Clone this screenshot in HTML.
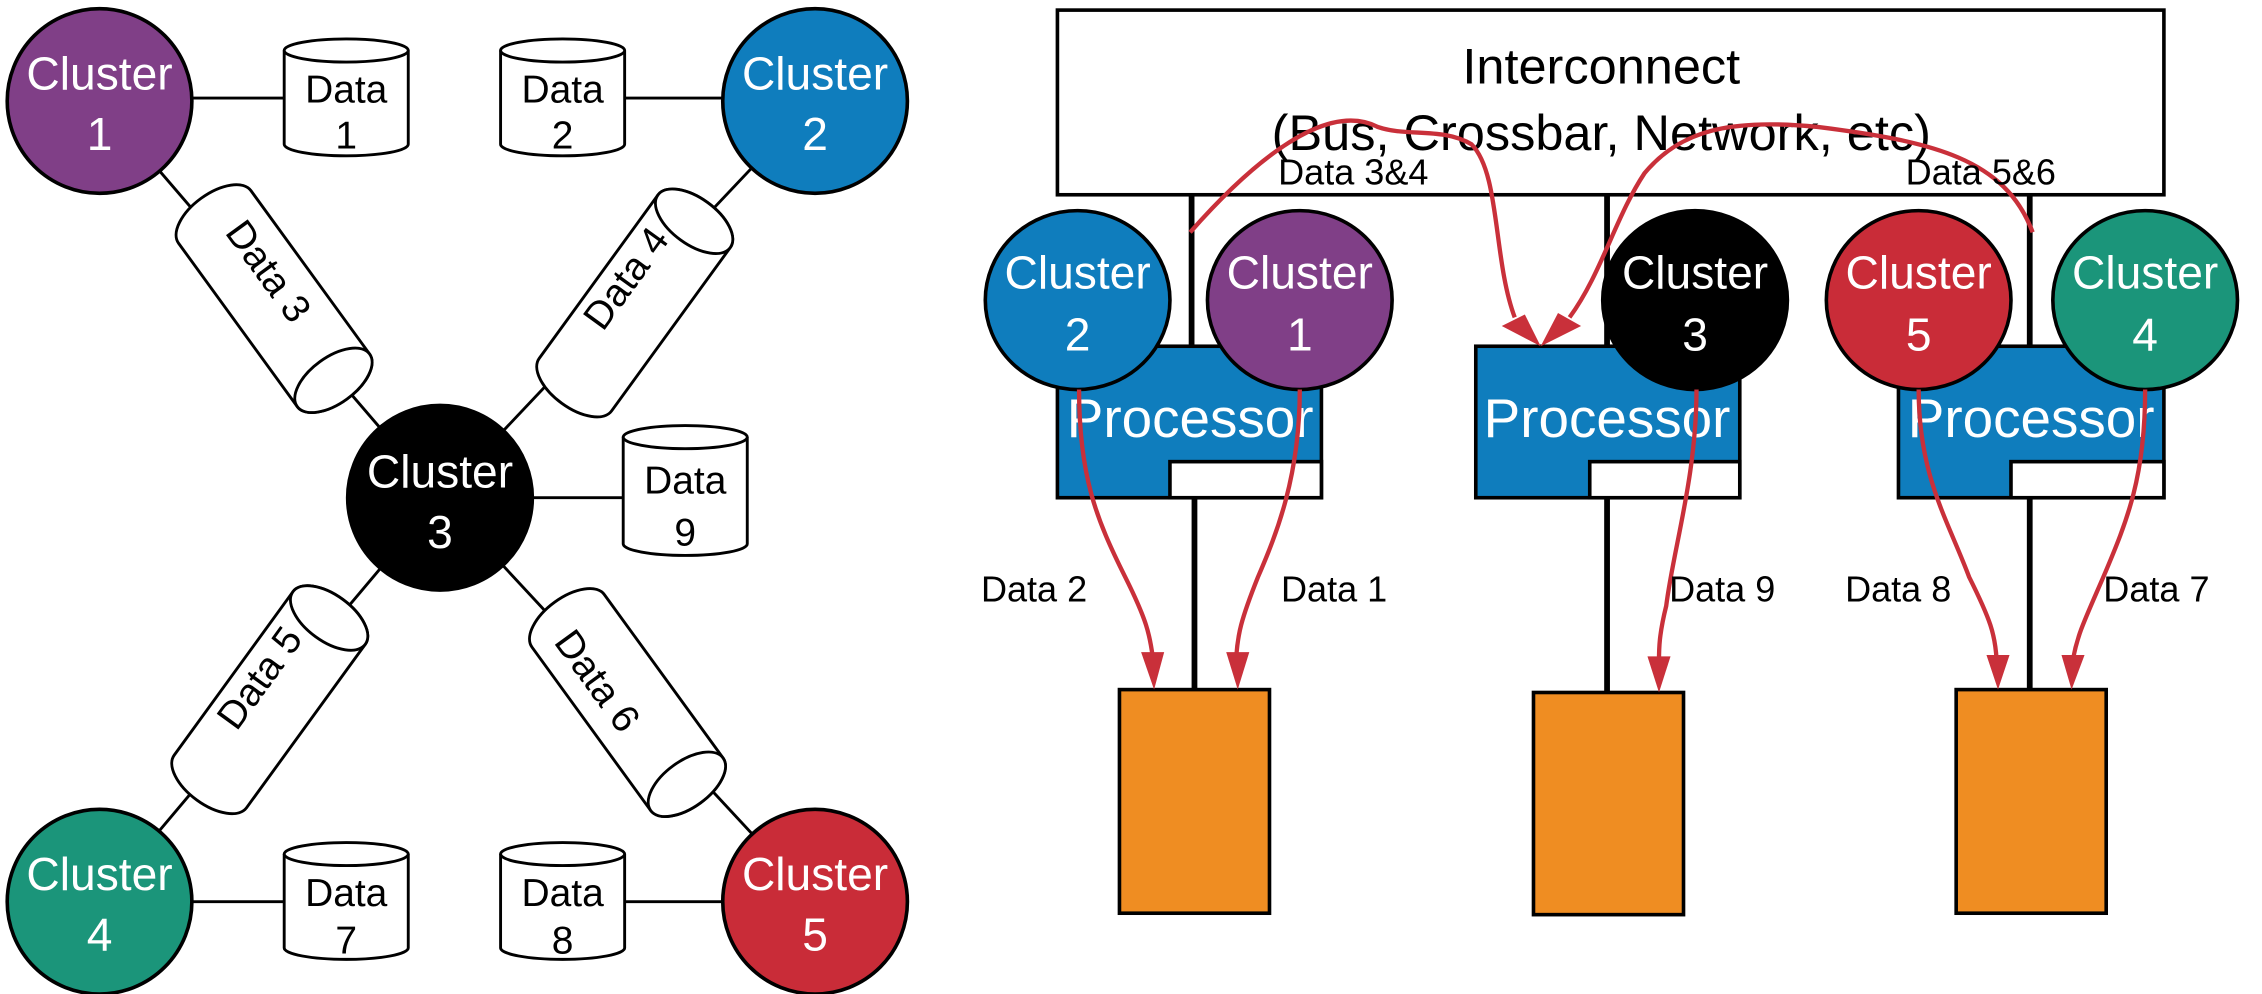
<!DOCTYPE html>
<html><head><meta charset="utf-8"><style>
html,body{margin:0;padding:0;background:#fff;}
svg{display:block;}
text{font-family:"Liberation Sans",sans-serif;}
</style></head><body>
<svg width="2262" height="994" viewBox="0 0 1568 689" preserveAspectRatio="none" xmlns="http://www.w3.org/2000/svg">
<rect width="1568" height="689" fill="#fff"/>
<g stroke="#000" stroke-width="2">
<line x1="69" y1="70" x2="305" y2="345"/>
<line x1="565" y1="70" x2="305" y2="345"/>
<line x1="69" y1="625" x2="305" y2="345"/>
<line x1="565" y1="625" x2="305" y2="345"/>
<line x1="133" y1="68" x2="200" y2="68"/>
<line x1="433" y1="68" x2="501" y2="68"/>
<line x1="369" y1="345" x2="432" y2="345"/>
<line x1="133" y1="625" x2="200" y2="625"/>
<line x1="433" y1="625" x2="501" y2="625"/>
</g>
<g fill="#fff" stroke="#000" stroke-width="2">
<path d="M197,35 V100 A43,8 0 0 0 283,100 V35"/><ellipse cx="240" cy="35" rx="43" ry="8"/>
<path d="M347,35 V100 A43,8 0 0 0 433,100 V35"/><ellipse cx="390" cy="35" rx="43" ry="8"/>
<path d="M432,303 V377 A43,8 0 0 0 518,377 V303"/><ellipse cx="475" cy="303" rx="43" ry="8"/>
<path d="M197,592 V657 A43,8 0 0 0 283,657 V592"/><ellipse cx="240" cy="592" rx="43" ry="8"/>
<path d="M347,592 V657 A43,8 0 0 0 433,657 V592"/><ellipse cx="390" cy="592" rx="43" ry="8"/>
</g>
<g font-size="27" text-anchor="middle" fill="#000">
<text x="240" y="71">Data</text><text x="240" y="103">1</text>
<text x="390" y="71">Data</text><text x="390" y="103">2</text>
<text x="475" y="342">Data</text><text x="475" y="378">9</text>
<text x="240" y="628">Data</text><text x="240" y="661">7</text>
<text x="390" y="628">Data</text><text x="390" y="661">8</text>
</g>
<g fill="#fff" stroke="#000" stroke-width="2">
<g transform="translate(190,207) rotate(54)"><path d="M-70,-31 L70,-31 A16,31 0 0 1 70,31 L-70,31 A16,31 0 0 1 -70,-31Z"/><ellipse cx="70" cy="0" rx="16" ry="31"/></g>
<g transform="translate(440,210) rotate(-54)"><path d="M-70,-31 L70,-31 A16,31 0 0 1 70,31 L-70,31 A16,31 0 0 1 -70,-31Z"/><ellipse cx="70" cy="0" rx="16" ry="31"/></g>
<g transform="translate(187,485) rotate(-54)"><path d="M-70,-31 L70,-31 A16,31 0 0 1 70,31 L-70,31 A16,31 0 0 1 -70,-31Z"/><ellipse cx="70" cy="0" rx="16" ry="31"/></g>
<g transform="translate(435,487) rotate(54)"><path d="M-70,-31 L70,-31 A16,31 0 0 1 70,31 L-70,31 A16,31 0 0 1 -70,-31Z"/><ellipse cx="70" cy="0" rx="16" ry="31"/></g>
</g>
<g font-size="27" text-anchor="middle" fill="#000">
<text transform="translate(186,188) rotate(54)" x="0" y="9">Data 3</text>
<text transform="translate(434,193) rotate(-54)" x="0" y="9">Data 4</text>
<text transform="translate(180,470) rotate(-54)" x="0" y="9">Data 5</text>
<text transform="translate(414,472) rotate(54)" x="0" y="9">Data 6</text>
</g>
<g stroke="#000" stroke-width="2.5">
<circle cx="69" cy="70" r="64" fill="#803f87"/>
<circle cx="565" cy="70" r="64" fill="#0f7dbd"/>
<circle cx="305" cy="345" r="64" fill="#000"/>
<circle cx="69" cy="625" r="64" fill="#1b957a"/>
<circle cx="565" cy="625" r="64" fill="#c92c38"/>
</g>
<g font-size="32" text-anchor="middle" fill="#fff">
<text x="69" y="62">Cluster</text><text x="69" y="104">1</text>
<text x="565" y="62">Cluster</text><text x="565" y="104">2</text>
<text x="305" y="338">Cluster</text><text x="305" y="380">3</text>
<text x="69" y="617">Cluster</text><text x="69" y="659">4</text>
<text x="565" y="617">Cluster</text><text x="565" y="659">5</text>
</g>
<rect x="733" y="7" width="767" height="128" fill="#fff" stroke="#000" stroke-width="2.5"/>
<g font-size="35" text-anchor="middle" fill="#000">
<text x="1110" y="58">Interconnect</text>
<text x="1110" y="104">(Bus, Crossbar, Network, etc)</text>
</g>
<g stroke="#000" stroke-width="4">
<line x1="826" y1="135" x2="826" y2="240"/><line x1="828" y1="345" x2="828" y2="478"/>
<line x1="1114" y1="135" x2="1114" y2="240"/><line x1="1114" y1="345" x2="1114" y2="480"/>
<line x1="1407" y1="135" x2="1407" y2="240"/><line x1="1407" y1="345" x2="1407" y2="478"/>
</g>
<g stroke="#000" stroke-width="2.5">
<rect x="733" y="240" width="183" height="105" fill="#0f7dbd"/>
<rect x="811" y="320" width="105" height="25" fill="#fff"/>
<rect x="1023" y="240" width="183" height="105" fill="#0f7dbd"/>
<rect x="1102" y="320" width="104" height="25" fill="#fff"/>
<rect x="1316" y="240" width="184" height="105" fill="#0f7dbd"/>
<rect x="1394" y="320" width="106" height="25" fill="#fff"/>
<rect x="776" y="478" width="104" height="155" fill="#ef8d22"/>
<rect x="1063" y="480" width="104" height="154" fill="#ef8d22"/>
<rect x="1356" y="478" width="104" height="155" fill="#ef8d22"/>
</g>
<g font-size="38" text-anchor="middle" fill="#fff">
<text x="825" y="303">Processor</text>
<text x="1114" y="303">Processor</text>
<text x="1408" y="303">Processor</text>
</g>
<g stroke="#000" stroke-width="2.5">
<ellipse cx="747" cy="208" rx="64" ry="62" fill="#0f7dbd"/>
<ellipse cx="901" cy="208" rx="64" ry="62" fill="#803f87"/>
<ellipse cx="1175" cy="208" rx="64" ry="62" fill="#000"/>
<ellipse cx="1330" cy="208" rx="64" ry="62" fill="#c92c38"/>
<ellipse cx="1487" cy="208" rx="64" ry="62" fill="#1b957a"/>
</g>
<g font-size="32" text-anchor="middle" fill="#fff">
<text x="747" y="200">Cluster</text><text x="747" y="243">2</text>
<text x="901" y="200">Cluster</text><text x="901" y="243">1</text>
<text x="1175" y="200">Cluster</text><text x="1175" y="243">3</text>
<text x="1330" y="200">Cluster</text><text x="1330" y="243">5</text>
<text x="1487" y="200">Cluster</text><text x="1487" y="243">4</text>
</g>
<g fill="none" stroke="#c9303a" stroke-width="3">
<path d="M748,270 C748,330 760,360 780,400 C795,430 797,440 799,455"/>
<path d="M901,270 C901,330 885,370 872,400 C860,430 858,440 857,455"/>
<path d="M1176,270 C1176,330 1160,380 1155,420 C1150,440 1150,450 1150,458"/>
<path d="M1330,270 C1330,330 1350,360 1365,400 C1380,430 1383,440 1384,457"/>
<path d="M1487,270 C1487,330 1475,360 1458,400 C1445,430 1440,440 1437,457"/>
<path d="M825,161 C870,110 920,70 955,88 C975,95 1000,88 1020,100 C1040,120 1035,180 1050,220"/>
<path d="M1409,161 C1390,110 1340,98 1260,88 C1200,82 1165,90 1140,120 C1120,150 1110,190 1088,220"/>
</g>
<g fill="#c9303a">
<polygon points="791,452 807,452 800,478"/>
<polygon points="850,452 866,452 858,478"/>
<polygon points="1142,455 1158,455 1150,480"/>
<polygon points="1377,454 1393,454 1385,478"/>
<polygon points="1429,454 1445,454 1436,478"/>
<polygon points="1041,226 1057,218 1068,240"/>
<polygon points="1080,217 1096,226 1068,240"/>
</g>
<g font-size="25" fill="#000">
<text x="680" y="417">Data 2</text>
<text x="888" y="417">Data 1</text>
<text x="1157" y="417">Data 9</text>
<text x="1279" y="417">Data 8</text>
<text x="1458" y="417">Data 7</text>
<text x="886" y="128">Data 3&amp;4</text>
<text x="1321" y="128">Data 5&amp;6</text>
</g>
</svg>
</body></html>
